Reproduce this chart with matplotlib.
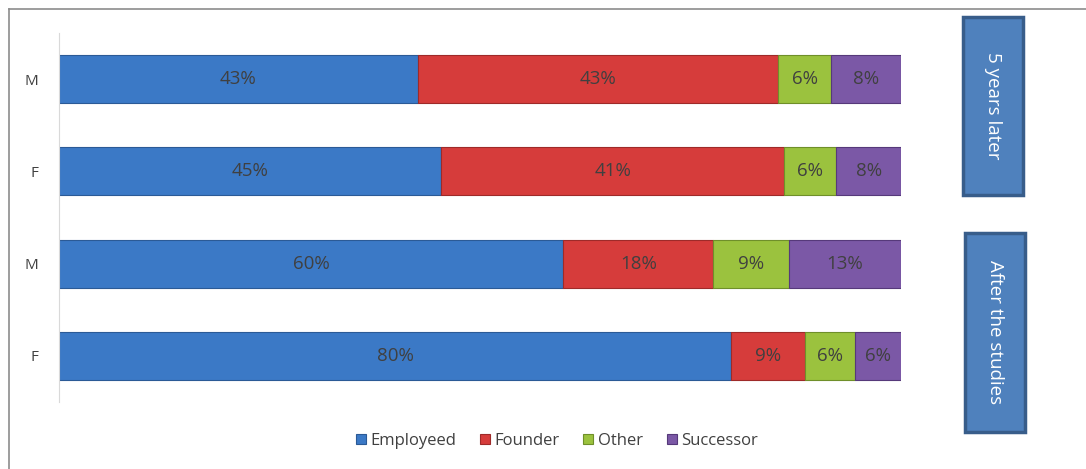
import numpy as np
import matplotlib.pyplot as plt
from matplotlib.patches import Rectangle
from matplotlib.lines import Line2D

# rows drawn top to bottom
row_labels = ["M", "F", "M", "F"]
series = ["Employeed", "Founder", "Other", "Successor"]
employed = [42.6, 45.4, 59.9, 79.8]
founder = [42.8, 40.7, 17.8, 8.8]
other = [6.3, 6.2, 9.0, 5.9]
successor = [8.3, 7.7, 13.3, 5.6]
groups = ["5 years later", "After the studies"]

colors = ["#3b79c6", "#d63c3b", "#9bc23e", "#7b58a6"]
edges = ["#2b5a96", "#9e2a29", "#6f8f2a", "#56397a"]

plt.rcParams['font.family'] = ['Open Sans', 'DejaVu Sans']

fig = plt.figure(figsize=(10.86, 4.69), dpi=100)
ax = fig.add_axes([59/1086, 1-402/469, 842/1086, 369/469])

y = np.arange(len(row_labels))
left = np.zeros(len(row_labels))
for name, vals, c, ec in zip(series, [employed, founder, other, successor], colors, edges):
    vals = np.array(vals)
    bars = ax.barh(y, vals, left=left, height=0.52, color=c, edgecolor=ec,
                   linewidth=0.8, label=name)
    for b, v in zip(bars, vals):
        ax.text(b.get_x() + b.get_width()/2, b.get_y() + b.get_height()/2,
                f"{v:.0f}%", ha="center", va="center", fontsize=13.5, color="#404040")
    left += vals

ax.set_xlim(0, 100)
ax.set_ylim(3.5, -0.5)
ax.set_yticks(y)
ax.set_yticklabels(row_labels, fontsize=11, color="#404040")
ax.tick_params(axis="y", length=0, pad=15)
ax.set_xticks([])
for s in ["top", "right", "bottom"]:
    ax.spines[s].set_visible(False)
ax.spines["left"].set_color("#d9d9d9")

# group boxes on the right
boxes = [(963, 17, 60, 178), (965, 233, 60, 199)]
for (bx, by, bw, bh), g in zip(boxes, groups):
    fig.patches.append(Rectangle((bx/1086, 1-(by+bh)/469), bw/1086, bh/469,
                                 transform=fig.transFigure, facecolor="#4f81bd",
                                 edgecolor="#385d8a", linewidth=2.5))
    fig.text((bx+bw/2)/1086, 1-(by+bh/2)/469, g, rotation=270, ha="center",
             va="center", fontsize=13.5, color="white")

# chart area border
fig.lines.append(Line2D([9/1086, 9/1086], [0, 1-9/469], transform=fig.transFigure,
                        color="#8c8c8c", linewidth=1.2))
fig.lines.append(Line2D([9/1086, 1], [1-9/469, 1-9/469], transform=fig.transFigure,
                        color="#8c8c8c", linewidth=1.2))

fig.legend(loc="center", bbox_to_anchor=(557/1086, 1-441/469), ncol=4, frameon=False,
           fontsize=12, handlelength=0.6, handleheight=0.6, handletextpad=0.3,
           columnspacing=1.4, labelcolor="#404040")

fig.savefig("out.png", dpi=100)
